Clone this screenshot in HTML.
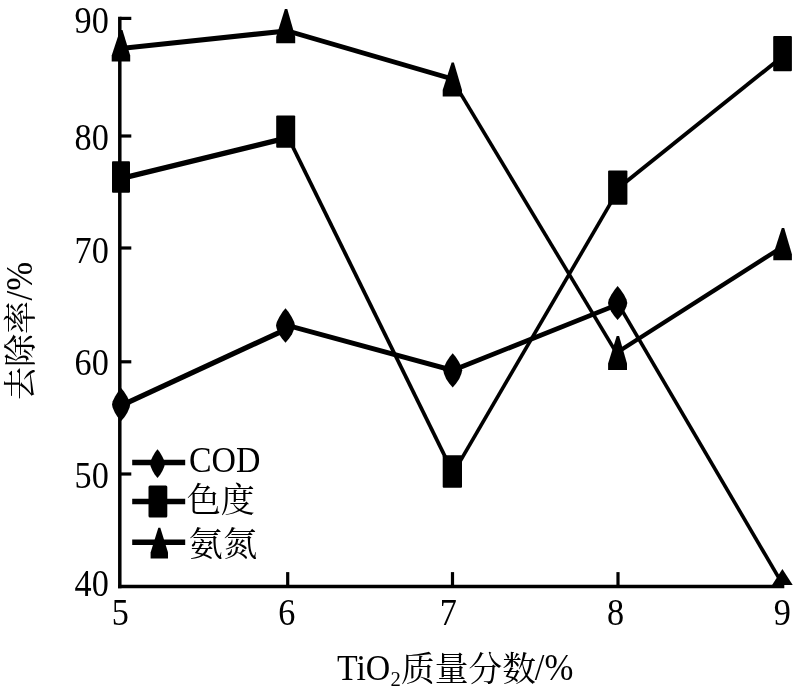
<!DOCTYPE html>
<html lang="zh"><head><meta charset="utf-8"><title>TiO2质量分数 去除率</title>
<style>html,body{margin:0;padding:0;background:#fff;}body{width:800px;height:687px;overflow:hidden;}svg{display:block;}text{font-family:"Liberation Serif", "Noto Serif CJK SC", serif;fill:#000;}</style>
</head><body>
<svg width="800" height="687" viewBox="0 0 800 687">
<rect width="800" height="687" fill="#fff"/>
<defs><clipPath id="plot"><rect x="100" y="0" width="700" height="585.1"/></clipPath></defs>
<g stroke="#000" stroke-width="3.5" fill="none" stroke-linecap="butt">
<path d="M119.8 16.8 V588.2"/>
<path d="M118.0 586.5 H784.3"/>
</g>
<g stroke="#000" stroke-width="3.2" fill="none">
<path d="M119.8 18.4 H131.3"/>
<path d="M119.8 136.0 H131.3"/>
<path d="M119.8 248.0 H131.3"/>
<path d="M119.8 361.8 H131.3"/>
<path d="M119.8 474.0 H131.3"/>
<path d="M287.7 586.5 V572.1"/>
<path d="M452.5 586.5 V572.1"/>
<path d="M618.0 586.5 V572.1"/>
</g>
<g clip-path="url(#plot)">
<g fill="#000">
<path d="M120.7 45.9 L286.0 28.4 L286.0 33.6 L120.7 51.1 Z"/>
<path d="M286.0 28.0 L452.5 76.5 L452.5 81.5 L286.0 33.0 Z"/>
<path d="M449.7 79.0 L615.0 354.0 L619.2 354.0 L453.9 79.0 Z"/>
<path d="M617.8 349.4 L782.6 244.2 L782.6 249.4 L617.8 354.6 Z"/>
<path d="M121.0 175.8 L286.5 135.3 L286.5 140.7 L121.0 181.2 Z"/>
<path d="M284.4 134.0 L450.3 471.4 L454.5 471.4 L288.6 134.0 Z"/>
<path d="M450.3 474.5 L615.6 191.0 L619.8 191.0 L454.5 474.5 Z"/>
<path d="M617.7 185.9 L782.5 54.0 L782.5 59.0 L617.7 190.9 Z"/>
<path d="M121.0 402.8 L286.0 326.4 L286.0 332.2 L121.0 408.6 Z"/>
<path d="M286.0 322.4 L452.7 367.8 L452.7 373.0 L286.0 327.6 Z"/>
<path d="M452.7 367.8 L617.7 301.9 L617.7 307.1 L452.7 373.0 Z"/>
<path d="M615.6 303.0 L781.5 586.0 L785.7 586.0 L619.8 303.0 Z"/>
</g>
<g fill="#000">
<path d="M120.1 30.00 L122.5 30.00 L130.2 55.52 L130.2 61.50 L111.7 61.50 L111.7 55.52 Z"/>
<path d="M284.9 9.10 L287.3 9.10 L295.2 36.72 L295.2 43.20 L276.2 43.20 L276.2 36.72 Z"/>
<path d="M451.6 62.50 L453.9 62.50 L462.0 89.96 L462.0 96.40 L442.7 96.40 L442.7 89.96 Z"/>
<path d="M616.7 336.00 L619.1 336.00 L627.0 363.46 L627.0 369.90 L608.1 369.90 L608.1 363.46 Z"/>
<path d="M781.8 227.90 L784.2 227.90 L791.9 254.14 L791.9 260.30 L773.3 260.30 L773.3 254.14 Z"/>
<rect x="112.0" y="161.20" width="18.0" height="31.60" rx="1"/>
<rect x="276.2" y="115.50" width="19.0" height="32.20" rx="1"/>
<rect x="442.7" y="455.20" width="19.3" height="32.50" rx="1"/>
<rect x="608.1" y="170.50" width="19.3" height="34.20" rx="1"/>
<rect x="773.2" y="36.00" width="18.7" height="35.20" rx="1"/>
<path d="M121.1 388.00 L123.8 391.30 L127.0 396.25 L129.5 401.20 L130.2 404.50 L129.5 407.80 L127.3 412.75 L124.6 416.88 L121.1 421.00 L117.6 416.88 L114.9 412.75 L112.7 407.80 L112.0 404.50 L112.7 401.20 L115.2 396.25 L118.4 391.30 Z"/>
<path d="M285.5 308.30 L288.4 311.75 L291.7 316.93 L294.2 322.10 L295.0 325.55 L294.2 329.00 L292.0 334.18 L289.1 338.49 L285.5 342.80 L281.9 338.49 L279.0 334.18 L276.8 329.00 L276.0 325.55 L276.8 322.10 L279.3 316.93 L282.6 311.75 Z"/>
<path d="M452.7 353.30 L455.6 356.71 L458.9 361.83 L461.4 366.94 L462.2 370.35 L461.4 373.76 L459.2 378.88 L456.3 383.14 L452.7 387.40 L449.1 383.14 L446.2 378.88 L444.0 373.76 L443.2 370.35 L444.0 366.94 L446.5 361.83 L449.8 356.71 Z"/>
<path d="M617.6 286.00 L620.5 289.40 L623.9 294.50 L626.5 299.60 L627.3 303.00 L626.5 306.40 L624.2 311.50 L621.3 315.75 L617.6 320.00 L614.0 315.75 L611.1 311.50 L608.8 306.40 L608.0 303.00 L608.8 299.60 L611.4 294.50 L614.8 289.40 Z"/>
<path d="M782.4 568.90 L793.0 585.45 L782.4 602.00 L771.8 585.45 Z"/>
</g>
</g>
<g stroke="#000" stroke-width="5.5" fill="none">
<path d="M132.2 462.6 H185.2"/>
<path d="M132.2 501.6 H185.2"/>
<path d="M132.2 542.3 H185.2"/>
</g>
<g fill="#000">
<path d="M157.5 449.2 L159.7 452.1 L162.3 456.4 L164.3 460.7 L164.9 463.6 L164.3 466.5 L162.5 470.8 L160.3 474.4 L157.5 478.0 L154.7 474.4 L152.5 470.8 L150.7 466.5 L150.1 463.6 L150.7 460.7 L152.7 456.4 L155.3 452.1 Z"/>
<rect x="148.5" y="485.4" width="18.8" height="32.2" rx="1.5"/>
<path d="M158.3 527.8 L160.3 527.8 L168 552.6 L168 558.4 L150.6 558.4 L150.6 552.6 Z"/>
</g>
<text transform="translate(108.8 33.1) scale(0.920 1)" font-size="37.2" text-anchor="end">90</text>
<text transform="translate(108.8 150.1) scale(0.920 1)" font-size="37.2" text-anchor="end">80</text>
<text transform="translate(108.8 263.4) scale(0.920 1)" font-size="37.2" text-anchor="end">70</text>
<text transform="translate(108.8 374.6) scale(0.920 1)" font-size="37.2" text-anchor="end">60</text>
<text transform="translate(108.8 488.1) scale(0.920 1)" font-size="37.2" text-anchor="end">50</text>
<text transform="translate(108.8 596.1) scale(0.920 1)" font-size="37.2" text-anchor="end">40</text>
<text transform="translate(120.4 625.4) scale(0.920 1)" font-size="37.2" text-anchor="middle">5</text>
<text transform="translate(286.9 625.4) scale(0.920 1)" font-size="37.2" text-anchor="middle">6</text>
<text transform="translate(448.3 625.4) scale(0.920 1)" font-size="37.2" text-anchor="middle">7</text>
<text transform="translate(615.6 625.4) scale(0.920 1)" font-size="37.2" text-anchor="middle">8</text>
<text transform="translate(782.3 625.4) scale(0.920 1)" font-size="37.2" text-anchor="middle">9</text>
<text transform="translate(189.0 472.0) scale(0.940 1)" font-size="36.0" text-anchor="start">COD</text>
<text transform="translate(186.7 512.4) scale(1.000 1)" font-size="34.1" text-anchor="start">色度</text>
<text transform="translate(188.6 555.5) scale(1.000 1)" font-size="34.3" text-anchor="start">氨氮</text>
<text transform="translate(337.0 680.0) scale(0.940 1)" font-size="36.0" text-anchor="start">TiO</text>
<text transform="translate(390.5 686.0) scale(0.940 1)" font-size="22.0" text-anchor="start">2</text>
<text transform="translate(400.9 680.6) scale(0.985 1)" font-size="34.3" text-anchor="start">质量分数</text>
<text transform="translate(534.8 680.0) scale(0.933 1)" font-size="37.2" text-anchor="start">/%</text>
<g transform="translate(32 400) rotate(-90)">
<text transform="translate(0.0 0.0) scale(1.000 1)" font-size="33.0" text-anchor="start">去除率</text>
<text transform="translate(99.6 0.0) scale(0.933 1)" font-size="37.2" text-anchor="start">/%</text>
</g>
</svg>
</body></html>
